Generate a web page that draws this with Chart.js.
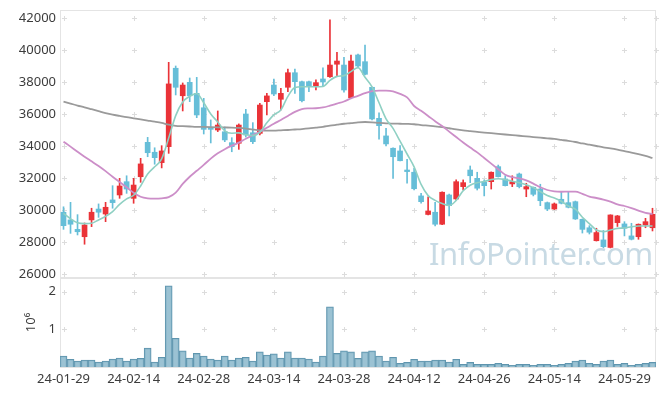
<!DOCTYPE html>
<html>
<head>
<meta charset="utf-8">
<script src="https://cdn.jsdelivr.net/npm/chart.js@4.4.1/dist/chart.umd.min.js"></script>
<style>
  body { margin: 0; background: #fff; }
  #wrap { position: relative; width: 665px; height: 396px; overflow: hidden; }
  #price { position: absolute; left: 0; top: 0; }
  #volume { position: absolute; left: 0; top: 278px; }
  #mark { position: absolute; left: 429px; top: 232px; font-family: "Noto Sans", sans-serif; font-size: 31px; color: #c8dae4; letter-spacing: -0.5px; pointer-events: none; }
</style>
</head>
<body>
<div id="wrap">
  <canvas id="price" width="665" height="278"></canvas>
  <canvas id="volume" width="665" height="118"></canvas>
  <div id="mark">InfoPointer.com</div>
</div>
<script>
// trading days shown on the chart
const categories = [
  '24-01-29','24-01-30','24-01-31','24-02-01','24-02-02','24-02-05','24-02-06','24-02-07','24-02-08','24-02-13',
  '24-02-14','24-02-15','24-02-16','24-02-19','24-02-20','24-02-21','24-02-22','24-02-23','24-02-26','24-02-27',
  '24-02-28','24-02-29','24-03-04','24-03-05','24-03-06','24-03-07','24-03-08','24-03-11','24-03-12','24-03-13',
  '24-03-14','24-03-15','24-03-18','24-03-19','24-03-20','24-03-21','24-03-22','24-03-25','24-03-26','24-03-27',
  '24-03-28','24-03-29','24-04-01','24-04-02','24-04-03','24-04-04','24-04-05','24-04-08','24-04-09','24-04-11',
  '24-04-12','24-04-15','24-04-16','24-04-17','24-04-18','24-04-19','24-04-22','24-04-23','24-04-24','24-04-25',
  '24-04-26','24-04-29','24-04-30','24-05-02','24-05-03','24-05-07','24-05-08','24-05-09','24-05-10','24-05-13',
  '24-05-14','24-05-16','24-05-17','24-05-20','24-05-21','24-05-22','24-05-23','24-05-24','24-05-27','24-05-28',
  '24-05-29','24-05-30','24-05-31','24-06-03','24-06-04'
];
const xTickLabels = ['24-01-29','24-02-14','24-02-28','24-03-14','24-03-28','24-04-12','24-04-26','24-05-14','24-05-29'];

const openPrices = [
  29860,29380,28790,28330,29380,30060,29750,30630,30940,31770,
  30730,32080,34230,33610,32960,33960,38860,37140,37980,37290,
  36390,35170,35000,34890,34210,34170,36000,34830,34790,36770,
  37810,36920,37670,38580,38020,38020,37750,38190,38330,39110,
  39060,37020,39690,39270,37670,35730,34630,33860,33690,32500,
  32360,30880,29720,29860,29110,30940,30690,31460,32500,31980,
  31730,31770,32710,31940,31630,32250,31310,31420,31310,30460,
  30060,30670,30460,30520,29420,28890,28080,28130,27660,29210,
  29130,28380,28330,29060,28890
];
const highPrices = [
  30200,30480,29710,29190,30110,30380,30480,31520,31980,32140,
  31980,33230,34540,33890,34020,39230,39000,37940,38250,38290,
  36980,35630,36190,35190,34520,35380,36290,35460,36670,37290,
  38190,37610,38810,38810,38060,38060,38130,38890,41880,39860,
  39540,39690,39750,40310,37690,36080,35110,33880,34020,33170,
  32610,31040,30830,30480,31130,31000,31880,31880,32750,32360,
  31880,32380,32810,32140,32140,32310,31670,31440,31610,30500,
  30440,31110,31110,30560,29440,29020,28860,28720,29700,29660,
  29270,29170,29130,29480,30110
];
const lowPrices = [
  28790,28540,28440,27860,28960,29540,29270,30110,30730,31040,
  30420,31730,33330,32860,32630,33540,37190,36190,36770,35770,
  34750,34190,34900,34270,33640,33790,34560,34150,34690,35940,
  37140,36250,37390,37290,36750,37390,37500,37710,38290,38380,
  37360,37000,38940,38440,35630,34420,34000,31980,33060,31670,
  31250,30420,29690,29000,29090,29630,30630,31250,31710,31250,
  30880,31310,32060,31500,31460,31380,30830,30880,30270,29960,
  30030,30380,30130,29410,28560,28500,28060,27630,27630,28970,
  28380,28130,28170,28890,28690
];
const closePrices = [
  29020,29110,28640,29060,29860,29860,30170,30460,31500,31310,
  31560,32880,33580,33270,33690,37880,37670,37810,37140,35940,
  35040,35040,35310,34380,33960,35310,34690,34270,36560,37130,
  37250,37290,38580,38020,36830,37750,37960,38000,39060,39310,
  37500,39310,39000,38480,35690,35270,34130,33330,33080,32400,
  31330,30520,29940,29110,31110,30270,31770,31710,32140,31360,
  31520,32360,32080,31520,31770,31460,31460,30980,30580,30060,
  30380,30420,30170,29440,28790,28610,28590,27710,29690,29630,
  28860,28170,29110,29270,29730
];
// moving averages
const ma5 = [
  29790,29450,29200,29150,29170,29380,29600,29900,30350,30700,
  30920,31500,32250,32700,33200,34500,35900,36750,37100,37280,
  36700,36000,35500,34950,34800,34820,34700,34650,34850,35450,
  35950,36250,37100,37650,37700,37700,37700,37720,38100,38350,
  38400,38650,38900,38300,37700,36700,35700,35100,34300,33500,
  32700,31600,30900,30600,30400,30280,30600,31200,31550,31700,
  31780,31900,31950,31900,31800,31700,31580,31400,31150,30900,
  30750,30550,30250,30050,29550,29150,28750,28650,28750,28850,
  28880,28950,29000,29000,29000
];
const ma20 = [
  34270,33960,33640,33330,33040,32750,32430,32080,31750,31420,
  31080,30830,30730,30710,30730,30800,31080,31630,32080,32450,
  32820,33210,33540,33800,34020,34210,34450,34680,34890,35140,
  35390,35630,35880,36130,36310,36350,36360,36410,36520,36650,
  36780,36980,37130,37300,37430,37460,37460,37420,37260,37040,
  36500,36200,35880,35550,35250,34900,34560,34220,33900,33600,
  33250,32900,32550,32200,32050,31970,31850,31650,31420,31250,
  31160,31140,31150,31150,31010,30840,30750,30650,30520,30350,
  30250,30120,29960,29820,29750
];
const ma60 = [
  36770,36650,36530,36420,36300,36180,36060,35960,35880,35800,
  35730,35660,35590,35520,35440,35330,35260,35240,35220,35200,
  35190,35180,35170,35160,35150,35130,35090,35030,34980,34960,
  34960,34980,35000,35030,35060,35100,35150,35200,35270,35330,
  35390,35430,35480,35500,35480,35440,35420,35400,35390,35380,
  35360,35310,35270,35230,35180,35110,35040,34980,34930,34880,
  34840,34800,34760,34720,34680,34640,34600,34560,34520,34480,
  34440,34380,34320,34250,34160,34080,34000,33920,33850,33770,
  33680,33590,33490,33380,33250
];
const volumes = [
  293000,205000,160000,187000,187000,133000,160000,213000,240000,160000,
  213000,231000,500000,133000,258000,2160000,764000,427000,240000,364000,
  293000,213000,187000,293000,187000,240000,258000,160000,400000,320000,
  347000,240000,400000,240000,240000,213000,133000,293000,1600000,364000,
  427000,400000,231000,400000,427000,293000,160000,258000,98000,124000,
  205000,160000,160000,187000,187000,133000,205000,71000,124000,71000,
  71000,71000,98000,71000,44000,71000,71000,44000,71000,71000,
  44000,71000,98000,160000,187000,98000,71000,160000,187000,71000,
  98000,44000,71000,98000,124000
];
const priceTicks = [26000, 28000, 30000, 32000, 34000, 36000, 38000, 40000, 42000];
const volumeTicks = [1000000, 2000000];

const UP = '#ea3338', DOWN = '#66bed8';
const candleColor = ctx => closePrices[ctx.dataIndex] >= openPrices[ctx.dataIndex] ? UP : DOWN;
const tickFont = { family: '"Noto Sans", sans-serif', size: 13 };
const textColor = '#3c3c3c';

function fixAxis(s) {
  s.width = 60;
  s.paddingTop = 0; s.paddingBottom = 0; s.paddingLeft = 0; s.paddingRight = 0;
}

// faint "+" marks where grid lines would cross, plus the light frame
const crossGrid = {
  id: 'crossGrid',
  beforeDatasetsDraw(chart) {
    const { ctx, chartArea: a, scales } = chart;
    const xs = categories.map((c, i) => xTickLabels.includes(c) ? scales.x.getPixelForValue(i) : null).filter(v => v !== null);
    xs.push(a.right);
    const ys = scales.y.ticks.map(t => scales.y.getPixelForValue(t.value));
    ctx.save();
    ctx.strokeStyle = '#e4e4e4';
    ctx.lineWidth = 1;
    ctx.strokeRect(a.left + 0.5, a.top + 0.5, a.right - a.left - 1, a.bottom - a.top);
    ctx.strokeStyle = '#dcdcdc';
    ctx.beginPath();
    xs.forEach(x => ys.forEach(y => {
      const px = Math.round(x) + 0.5, py = Math.round(y) + 0.5;
      ctx.moveTo(px - 2.5, py); ctx.lineTo(px + 2.5, py);
      ctx.moveTo(px, py - 2.5); ctx.lineTo(px, py + 2.5);
    }));
    ctx.stroke();
    ctx.restore();
  }
};

// rotated "10⁶" unit label left of the volume axis
const unitLabel = {
  id: 'unitLabel',
  afterDraw(chart) {
    const { ctx, chartArea: a } = chart;
    ctx.save();
    ctx.translate(31, (a.top + a.bottom) / 2);
    ctx.rotate(-Math.PI / 2);
    ctx.font = '13px "Noto Sans", sans-serif';
    ctx.fillStyle = textColor;
    ctx.textAlign = 'center';
    ctx.textBaseline = 'middle';
    ctx.fillText('10⁶', 0, 0);
    ctx.restore();
  }
};

new Chart(document.getElementById('price'), {
  data: {
    labels: categories,
    datasets: [
      { type: 'line', label: 'MA5', data: ma5, borderColor: '#8fd0c3', borderWidth: 1.6, pointRadius: 0, cubicInterpolationMode: 'monotone', order: 1 },
      { type: 'line', label: 'MA20', data: ma20, borderColor: '#cc8ec8', borderWidth: 1.8, pointRadius: 0, cubicInterpolationMode: 'monotone', order: 1 },
      { type: 'line', label: 'MA60', data: ma60, borderColor: '#9a9a9a', borderWidth: 1.8, pointRadius: 0, cubicInterpolationMode: 'monotone', order: 1 },
      { type: 'bar', label: 'body', data: openPrices.map((o, i) => [o, closePrices[i]]), backgroundColor: candleColor, barThickness: 5, minBarLength: 1, grouped: false, order: 2 },
      { type: 'bar', label: 'wick', data: lowPrices.map((l, i) => [l, highPrices[i]]), backgroundColor: candleColor, barThickness: 1, grouped: false, order: 3 }
    ]
  },
  options: {
    responsive: false,
    animation: false,
    devicePixelRatio: 1,
    layout: { padding: { top: 10, right: 9, bottom: 1, left: 0 } },
    plugins: { legend: { display: false }, tooltip: { enabled: false } },
    scales: {
      x: { type: 'category', display: false, offset: true },
      y: {
        min: 25812.5, max: 42500,
        grid: { display: false, drawTicks: false }, border: { display: false },
        afterBuildTicks: s => { s.ticks = priceTicks.map(v => ({ value: v })); },
        ticks: { font: tickFont, color: textColor, padding: 4, callback: v => String(v) },
        afterFit: fixAxis
      }
    }
  },
  plugins: [crossGrid]
});

new Chart(document.getElementById('volume'), {
  type: 'bar',
  data: {
    labels: categories,
    datasets: [{
      label: 'Volume', data: volumes,
      backgroundColor: 'rgba(138,183,203,0.85)', borderColor: '#5f95ae', borderWidth: 1,
      barPercentage: 1, categoryPercentage: 1
    }]
  },
  options: {
    responsive: false,
    animation: false,
    devicePixelRatio: 1,
    layout: { padding: { top: 0, right: 9, bottom: 0, left: 0 } },
    plugins: { legend: { display: false }, tooltip: { enabled: false } },
    scales: {
      x: {
        type: 'category', offset: true,
        grid: { display: false, drawTicks: false }, border: { display: false },
        ticks: {
          autoSkip: false, maxRotation: 0, font: tickFont, color: textColor, padding: 4,
          callback: function (v, i) { const c = categories[i]; return xTickLabels.includes(c) ? c : null; }
        },
        afterFit: s => { s.height = 29; s.paddingLeft = 0; s.paddingRight = 0; }
      },
      y: {
        min: 0, max: 2365000,
        grid: { display: false, drawTicks: false }, border: { display: false },
        afterBuildTicks: s => { s.ticks = volumeTicks.map(v => ({ value: v })); },
        ticks: { font: tickFont, color: textColor, padding: 4, callback: v => String(v / 1000000) },
        afterFit: fixAxis
      }
    }
  },
  plugins: [crossGrid, unitLabel]
});
</script>
</body>
</html>
